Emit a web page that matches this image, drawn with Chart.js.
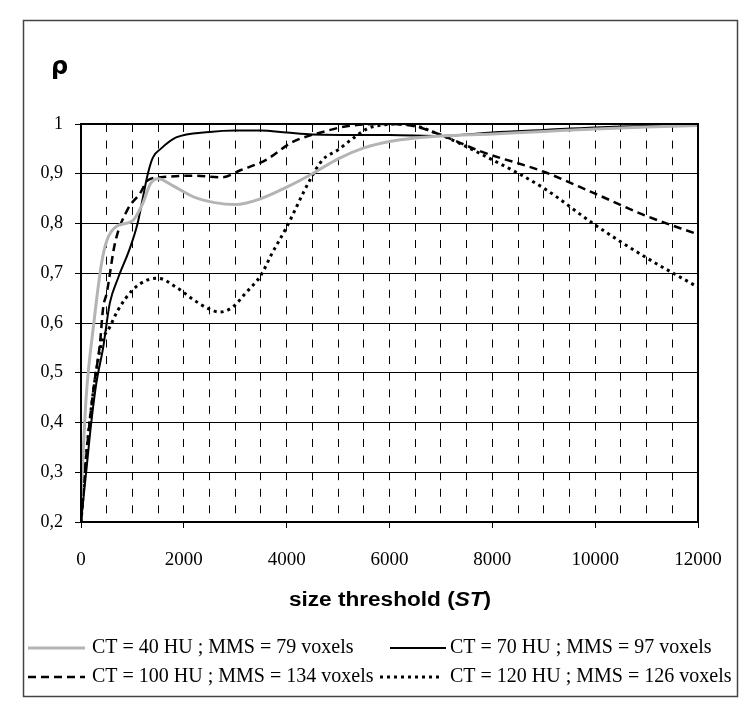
<!DOCTYPE html>
<html>
<head>
<meta charset="utf-8">
<script src="https://cdn.jsdelivr.net/npm/chart.js@4/dist/chart.umd.min.js"></script>
<style>
  html, body { margin: 0; padding: 0; background: #fff; }
  #wrap { width: 750px; height: 712px; }
</style>
</head>
<body>
<div id="wrap"><canvas id="myChart" width="750" height="712"></canvas></div>
<script>
// size threshold (ST) values and rho for each CT setting
const ct40X = [0, 100, 250, 400, 500, 700, 1000, 1200, 1350, 1500, 1800, 2200, 2600, 3000, 3500, 4000, 4500, 5000, 5500, 6000, 6500, 7000, 8000, 9000, 10000, 11000, 12000];
const ct40Y = [0.25, 0.45, 0.6, 0.72, 0.765, 0.795, 0.805, 0.84, 0.88, 0.89, 0.875, 0.853, 0.842, 0.838, 0.85, 0.873, 0.9, 0.93, 0.952, 0.965, 0.972, 0.976, 0.98, 0.985, 0.99, 0.994, 0.997];

const ct70X = [0, 100, 200, 300, 430, 560, 720, 950, 1100, 1200, 1300, 1400, 1550, 1850, 2500, 3000, 3500, 4000, 4500, 5500, 6000, 7000, 8000, 9000, 10000, 11000, 12000];
const ct70Y = [0.2, 0.3, 0.4, 0.48, 0.55, 0.64, 0.69, 0.75, 0.8, 0.85, 0.9, 0.933, 0.95, 0.973, 0.984, 0.987, 0.987, 0.983, 0.979, 0.978, 0.978, 0.976, 0.983, 0.988, 0.993, 0.996, 0.997];

const ct100X = [0, 100, 240, 370, 430, 500, 660, 900, 1150, 1300, 1550, 2200, 2750, 3100, 3600, 4100, 4700, 5200, 6000, 6500, 7000, 7800, 9000, 10000, 11000, 12000];
const ct100Y = [0.2, 0.33, 0.465, 0.56, 0.63, 0.66, 0.76, 0.827, 0.861, 0.887, 0.893, 0.896, 0.893, 0.907, 0.928, 0.963, 0.984, 0.996, 1.0, 0.995, 0.978, 0.944, 0.904, 0.86, 0.815, 0.778];

const ct120X = [0, 100, 250, 400, 560, 720, 1000, 1280, 1500, 1850, 2200, 2450, 2700, 2950, 3200, 3500, 3700, 4000, 4450, 4700, 5000, 5300, 5650, 6300, 6900, 8000, 9000, 10000, 11000, 12000];
const ct120Y = [0.2, 0.33, 0.47, 0.56, 0.592, 0.626, 0.666, 0.686, 0.69, 0.672, 0.646, 0.63, 0.622, 0.632, 0.66, 0.696, 0.737, 0.793, 0.887, 0.928, 0.948, 0.972, 0.994, 1.0, 0.982, 0.928, 0.871, 0.797, 0.731, 0.672];

const seriesLabels = [
  "CT = 40 HU ; MMS = 79 voxels",
  "CT = 70 HU ; MMS = 97 voxels",
  "CT = 100 HU ; MMS = 134 voxels",
  "CT = 120 HU ; MMS = 126 voxels"
];

function toPoints(xs, ys) {
  return xs.map((x, i) => ({ x: x, y: ys[i] }));
}

const serif = "'Liberation Serif', 'Times New Roman', serif";
const sans = "'Liberation Sans', Arial, sans-serif";

// frame, titles and the 2x2 legend
const decorPlugin = {
  id: "decor",
  afterDraw(chart) {
    const ctx = chart.ctx;
    const area = chart.chartArea;
    ctx.save();

    // outer box
    ctx.strokeStyle = "#444";
    ctx.lineWidth = 1.5;
    ctx.strokeRect(23.5, 20.5, 714, 676);

    // plot frame
    ctx.strokeStyle = "#000";
    ctx.lineWidth = 2;
    ctx.strokeRect(area.left, area.top, area.right - area.left, area.bottom - area.top);

    // rho
    ctx.fillStyle = "#000";
    ctx.font = "bold 24px 'DejaVu Sans'";
    ctx.textBaseline = "middle";
    ctx.textAlign = "left";
    ctx.fillText("ρ", 51, 68);

    // x title with italic ST, a bit stretched like the original
    const parts = [
      ["size threshold (", "bold 20px " + sans],
      ["ST", "italic bold 20px " + sans],
      [")", "bold 20px " + sans]
    ];
    const stretch = 1.13;
    let total = 0;
    parts.forEach(p => { ctx.font = p[1]; total += ctx.measureText(p[0]).width; });
    ctx.save();
    ctx.translate(390 - total * stretch / 2, 600);
    ctx.scale(stretch, 1);
    let tx = 0;
    parts.forEach(p => {
      ctx.font = p[1];
      ctx.fillText(p[0], tx, 0);
      tx += ctx.measureText(p[0]).width;
    });
    ctx.restore();

    // legend
    const spots = [
      { x1: 28, x2: 85, tx: 92, y: 648 },
      { x1: 390, x2: 446, tx: 450, y: 648 },
      { x1: 28, x2: 85, tx: 92, y: 677 },
      { x1: 380, x2: 442, tx: 450, y: 677 }
    ];
    chart.data.datasets.forEach((ds, i) => {
      const s = spots[i];
      ctx.save();
      ctx.strokeStyle = ds.borderColor;
      ctx.lineWidth = ds.borderWidth;
      ctx.setLineDash(ds.borderDash || []);
      ctx.beginPath();
      ctx.moveTo(s.x1, s.y);
      ctx.lineTo(s.x2, s.y);
      ctx.stroke();
      ctx.restore();
      ctx.font = "20px " + serif;
      ctx.fillStyle = "#000";
      ctx.textBaseline = "middle";
      ctx.fillText(ds.label, s.tx, s.y);
    });
    ctx.restore();
  }
};

const ctx = document.getElementById("myChart");

new Chart(ctx, {
  type: "line",
  data: {
    datasets: [
      {
        label: seriesLabels[0],
        data: toPoints(ct40X, ct40Y),
        borderColor: "#b4b4b4",
        borderWidth: 3
      },
      {
        label: seriesLabels[1],
        data: toPoints(ct70X, ct70Y),
        borderColor: "#000",
        borderWidth: 2
      },
      {
        label: seriesLabels[2],
        data: toPoints(ct100X, ct100Y),
        borderColor: "#000",
        borderWidth: 2.5,
        borderDash: [8, 5]
      },
      {
        label: seriesLabels[3],
        data: toPoints(ct120X, ct120Y),
        borderColor: "#000",
        borderWidth: 3,
        borderDash: [3, 4]
      }
    ]
  },
  options: {
    responsive: false,
    animation: false,
    elements: {
      point: { radius: 0 },
      line: { cubicInterpolationMode: "monotone" }
    },
    layout: { padding: { left: 0, top: 124, right: 52, bottom: 0 } },
    plugins: {
      legend: { display: false },
      tooltip: { enabled: false }
    },
    scales: {
      x: {
        type: "linear",
        min: 0,
        max: 12000,
        afterFit: function (scale) { scale.height = 190; },
        ticks: {
          stepSize: 500,
          autoSkip: false,
          maxRotation: 0,
          padding: 21,
          color: "#000",
          font: { family: serif, size: 19 },
          callback: function (v) { return v % 2000 === 0 ? String(v) : ""; }
        },
        grid: {
          color: function (c) {
            const v = c.tick ? c.tick.value : 0;
            return (v === 0 || v === 12000) ? "rgba(0,0,0,0)" : "#000";
          },
          lineWidth: 1,
          tickLength: 6,
          tickColor: function (c) {
            return c.tick && c.tick.value % 2000 === 0 ? "#000" : "rgba(0,0,0,0)";
          }
        },
        border: { color: "#000", width: 2, dash: [8, 8.58] }
      },
      y: {
        min: 0.2,
        max: 1,
        afterFit: function (scale) { scale.width = 81; },
        ticks: {
          stepSize: 0.1,
          padding: 12,
          color: "#000",
          font: { family: serif, size: 18 },
          callback: function (v) {
            if (Math.abs(v - 1) < 1e-9) return "1";
            return v.toFixed(1).replace(".", ",");
          }
        },
        grid: {
          color: "#000",
          lineWidth: 1,
          tickLength: 6,
          tickColor: "#000"
        },
        border: { color: "#000", width: 2 }
      }
    }
  },
  plugins: [decorPlugin]
});
</script>
</body>
</html>
